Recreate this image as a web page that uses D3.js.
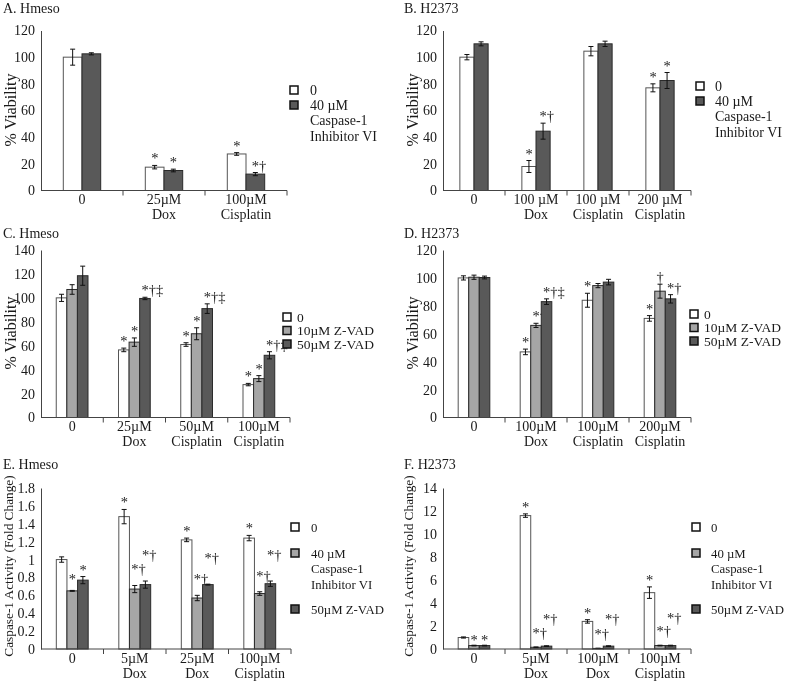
<!DOCTYPE html>
<html><head><meta charset="utf-8">
<script src="https://cdn.jsdelivr.net/npm/d3@7"></script>
<style>
body{margin:0;background:#fff}
svg{will-change:transform}
svg text{font-family:"Liberation Serif","Times New Roman",serif;fill:#1a1a1a}
</style>
</head><body>
<svg id="chart" width="790" height="684"></svg>
<script>
// ---------- DATA ----------
// Panel A. Hmeso
const aCategories = [["0"], ["25µM","Dox"], ["100µM","Cisplatin"]];
const aSeries = [["0"], ["40 µM","Caspase-1","Inhibitor VI"]];
const aValues = [[100, 17.5, 27.4], [102.5, 15, 12.3]];
const aErrors = [[6, 1.3, 1], [0.8, 1, 1.2]];
const aMarks = [["", "*", "*"], ["", "*", "*†"]];
const aTicks = [0, 20, 40, 60, 80, 100, 120];

// Panel B. H2373
const bCategories = [["0"], ["100 µM","Dox"], ["100 µM","Cisplatin"], ["200 µM","Cisplatin"]];
const bSeries = [["0"], ["40 µM","Caspase-1","Inhibitor VI"]];
const bValues = [[100, 18, 104.5, 77], [110, 44.5, 110, 82.5]];
const bErrors = [[2, 4.5, 3.5, 3], [1.5, 6, 2, 6]];
const bMarks = [["", "*", "", "*"], ["", "*†", "", "*"]];
const bTicks = [0, 20, 40, 60, 80, 100, 120];

// Panel C. Hmeso
const cCategories = [["0"], ["25µM","Dox"], ["50µM","Cisplatin"], ["100µM","Cisplatin"]];
const cSeries = [["0"], ["10µM Z-VAD"], ["50µM Z-VAD"]];
const cValues = [[100, 56.5, 61, 27.5], [107, 63, 70, 32.5], [118.5, 99.5, 91, 52]];
const cErrors = [[3, 1.5, 1.5, 1], [4, 3.5, 5, 2.5], [8, 1, 4, 3]];
const cMarks = [["", "*", "*", "*"], ["", "*", "*", "*"], ["", "*†‡", "*†‡", "*†‡"]];
const cTicks = [0, 20, 40, 60, 80, 100, 120, 140];

// Panel D. H2373
const dCategories = [["0"], ["100µM","Dox"], ["100µM","Cisplatin"], ["200µM","Cisplatin"]];
const dSeries = [["0"], ["10µM Z-VAD"], ["50µM Z-VAD"]];
const dValues = [[100, 47, 84, 71], [100.5, 66, 94.5, 90.5], [100.3, 83, 97, 85]];
const dErrors = [[1.5, 2, 5, 2], [1.5, 1.5, 1.5, 5], [1, 2, 2, 3]];
const dMarks = [["", "*", "*", "*"], ["", "*†", "", "†"], ["", "*†‡", "", "*†"]];
const dTicks = [0, 20, 40, 60, 80, 100, 120];

// Panel E. Hmeso
const eCategories = [["0"], ["5µM","Dox"], ["25µM","Dox"], ["100µM","Cisplatin"]];
const eSeries = [["0"], ["40 µM","Caspase-1","Inhibitor VI"], ["50µM Z-VAD"]];
const eValues = [[1.0, 1.48, 1.22, 1.24], [0.65, 0.67, 0.57, 0.62], [0.77, 0.72, 0.72, 0.73]];
const eErrors = [[0.03, 0.08, 0.02, 0.03], [0.005, 0.04, 0.03, 0.02], [0.04, 0.04, 0.005, 0.03]];
const eMarks = [["", "*", "*", "*"], ["*", "*†", "*†", "*†"], ["*", "*†", "*†", "*†"]];
const eTicks = [0, 0.2, 0.4, 0.6, 0.8, 1, 1.2, 1.4, 1.6, 1.8];

// Panel F. H2373
const fCategories = [["0"], ["5µM","Dox"], ["100µM","Dox"], ["100µM","Cisplatin"]];
const fSeries = [["0"], ["40 µM","Caspase-1","Inhibitor VI"], ["50µM Z-VAD"]];
const fValues = [[1.0, 11.6, 2.4, 4.9], [0.3, 0.15, 0.05, 0.3], [0.3, 0.25, 0.25, 0.3]];
const fErrors = [[0.05, 0.15, 0.15, 0.5], [0.03, 0.03, 0.02, 0.03], [0.03, 0.03, 0.03, 0.03]];
const fMarks = [["", "*", "*", "*"], ["*", "*†", "*†", "*†"], ["*", "*†", "*†", "*†"]];
const fTicks = [0, 2, 4, 6, 8, 10, 12, 14];

// ---------- STYLE / LAYOUT ----------
const WHITE = "#ffffff", GRAY = "#a6a6a6", DARK = "#595959";
const FONT = 14;

const panels = [
  {title:"A. Hmeso", tx:3, ty:13, cats:aCategories, series:aSeries, values:aValues, errors:aErrors, marks:aMarks, ticks:aTicks,
   colors:[WHITE, DARK], x0:41, x1:287, yTop:30.5, yBot:190.5, ytitle:"% Viability", ytx:10, yty:110, ytsize:16,
   legSq:290, legTx:310, legY:[90,105], legFont:14, legLine:15.5, lift:[[2,2],[2,2]]},
  {title:"B. H2373", tx:404, ty:13, cats:bCategories, series:bSeries, values:bValues, errors:bErrors, marks:bMarks, ticks:bTicks,
   colors:[WHITE, DARK], x0:443, x1:691, yTop:30.5, yBot:190.5, ytitle:"% Viability", ytx:412, yty:110, ytsize:16,
   legSq:696, legTx:715, legY:[86,101], legFont:14, legLine:15.5, lift:[[2,2],[2,2]]},
  {title:"C. Hmeso", tx:3, ty:238, cats:cCategories, series:cSeries, values:cValues, errors:cErrors, marks:cMarks, ticks:cTicks,
   colors:[WHITE, GRAY, DARK], x0:41, x1:290, yTop:250, yBot:417.5, ytitle:"% Viability", ytx:10, yty:333, ytsize:16,
   legSq:283, legTx:297, legY:[317,330.5,344], legFont:13.5, legLine:13.5, lift:[[2,2,2],[2,2,2]]},
  {title:"D. H2373", tx:404, ty:238, cats:dCategories, series:dSeries, values:dValues, errors:dErrors, marks:dMarks, ticks:dTicks,
   colors:[WHITE, GRAY, DARK], x0:443, x1:691, yTop:250, yBot:417.5, ytitle:"% Viability", ytx:412, yty:333, ytsize:16,
   legSq:690, legTx:704, legY:[314,327.5,341], legFont:13.5, legLine:13.5, lift:[[2,2,2],[2,2,2]]},
  {title:"E. Hmeso", tx:3, ty:469, cats:eCategories, series:eSeries, values:eValues, errors:eErrors, marks:eMarks, ticks:eTicks,
   colors:[WHITE, GRAY, DARK], x0:41, x1:291, yTop:488, yBot:649, ytitle:"Caspase-1 Activity (Fold Change)", ytx:8.5, yty:566, ytsize:13.3,
   legSq:291, legTx:311, legY:[527,553,609], legFont:12.8, legLine:15.5, lift:[[2,6,2],[2,11,21]]},
  {title:"F. H2373", tx:404, ty:469, cats:fCategories, series:fSeries, values:fValues, errors:fErrors, marks:fMarks, ticks:fTicks,
   colors:[WHITE, GRAY, DARK], x0:443, x1:691, yTop:488, yBot:649, ytitle:"Caspase-1 Activity (Fold Change)", ytx:408.5, yty:566, ytsize:13.3,
   legSq:692, legTx:711, legY:[527,553,609], legFont:12.8, legLine:15.5, lift:[[2,0,0],[2,9,22]]}
];

const svg = d3.select("#chart");

panels.forEach(p => {
  const g = svg.append("g");
  const n = p.series.length;
  const catIdx = p.cats.map((c, i) => i);
  const x = d3.scaleBand().domain(catIdx).range([p.x0, p.x1]).paddingInner(0).paddingOuter(0);
  const groupFrac = n === 2 ? 0.456 : 0.51;
  const y = d3.scaleLinear().domain([p.ticks[0], p.ticks[p.ticks.length - 1]]).range([p.yBot, p.yTop]);

  // title
  g.append("text").attr("x", p.tx).attr("y", p.ty).attr("font-size", FONT).text(p.title);

  // y axis title
  g.append("text")
    .attr("transform", `translate(${p.ytx},${p.yty}) rotate(-90)`)
    .attr("text-anchor", "middle").attr("dominant-baseline", "central")
    .attr("font-size", p.ytsize).text(p.ytitle);

  // y axis
  const yAxis = d3.axisLeft(y).tickValues(p.ticks).tickSize(0).tickPadding(6)
    .tickFormat(d => String(d));
  const ya = g.append("g").attr("transform", `translate(${p.x0},0)`).call(yAxis);
  ya.select(".domain").attr("stroke", "#444");
  ya.selectAll("text").attr("font-size", FONT).attr("font-family", "Liberation Serif");

  // bars
  catIdx.forEach(ci => {
    const bw = x.bandwidth();
    const cx = x(ci) + bw / 2;
    const gw = bw * groupFrac;
    const sub = d3.scaleBand().domain(d3.range(n)).range([cx - gw / 2, cx + gw / 2]);
    for (let si = 0; si < n; si++) {
      const v = p.values[si][ci], e = p.errors[si][ci];
      const bx = sub(si), w = sub.bandwidth();
      g.append("rect")
        .attr("x", bx).attr("y", y(v)).attr("width", w).attr("height", y(0) - y(v))
        .attr("fill", p.colors[si])
        .attr("stroke", si === 0 ? "#555" : "#2b2b2b").attr("stroke-width", 1);
      const ex = bx + w / 2;
      const cap = 2.5;
      g.append("path")
        .attr("d", `M${ex},${y(v + e)}V${y(v - e)}M${ex - cap},${y(v + e)}H${ex + cap}M${ex - cap},${y(v - e)}H${ex + cap}`)
        .attr("stroke", "#111").attr("stroke-width", 1).attr("fill", "none");
      const m = p.marks[si][ci];
      if (m) {
        const lift = p.lift[ci === 0 ? 0 : 1][si];
        g.append("text")
          .attr("x", ex - 3.5).attr("y", y(v + e) - lift)
          .attr("font-size", 14.5).attr("fill", "#3a3a3a").text(m);
      }
    }
  });

  // x axis
  g.append("line").attr("x1", p.x0).attr("x2", p.x1).attr("y1", p.yBot).attr("y2", p.yBot)
    .attr("stroke", "#444").attr("stroke-width", 1);
  catIdx.slice(1).concat([catIdx.length]).forEach(ci => {
    const tx = ci < catIdx.length ? x(ci) : p.x1;
    g.append("line").attr("x1", tx).attr("x2", tx).attr("y1", p.yBot).attr("y2", p.yBot + 5)
      .attr("stroke", "#444").attr("stroke-width", 1);
  });
  catIdx.forEach(ci => {
    const t = g.append("text").attr("text-anchor", "middle").attr("font-size", FONT)
      .attr("x", x(ci) + x.bandwidth() / 2).attr("y", p.yBot + 13.5);
    p.cats[ci].forEach((line, li) => {
      t.append("tspan").attr("x", x(ci) + x.bandwidth() / 2).attr("dy", li === 0 ? 0 : 15).text(line);
    });
  });

  // legend
  p.series.forEach((lines, si) => {
    const ly = p.legY[si];
    g.append("rect").attr("x", p.legSq).attr("y", ly - 4).attr("width", 8).attr("height", 8)
      .attr("fill", p.colors[si]).attr("stroke", "#111").attr("stroke-width", 1.5);
    const t = g.append("text").attr("font-size", p.legFont).attr("x", p.legTx).attr("y", ly + 4.5);
    lines.forEach((line, li) => {
      t.append("tspan").attr("x", p.legTx).attr("dy", li === 0 ? 0 : p.legLine).text(line);
    });
  });
});
</script>
</body></html>
